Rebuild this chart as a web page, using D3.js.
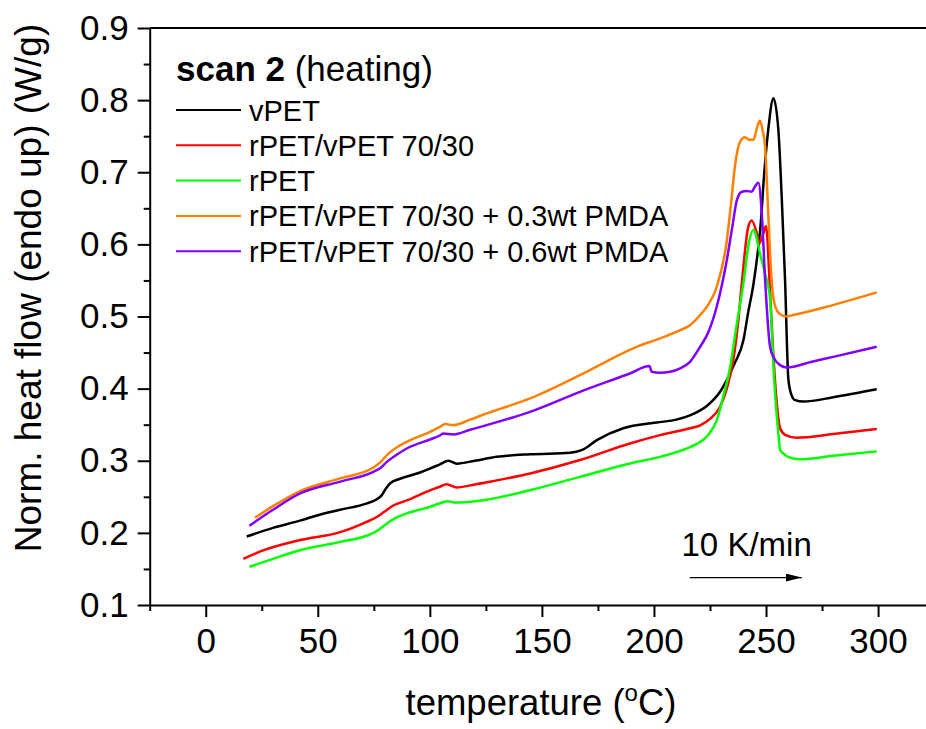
<!DOCTYPE html>
<html>
<head>
<meta charset="utf-8">
<script src="https://cdn.jsdelivr.net/npm/d3@7"></script>
<style>
  body { margin: 0; background: #fff; }
  svg text { font-family: "Liberation Sans", Arial, sans-serif; fill: #000; }
</style>
</head>
<body>
<div id="chart"></div>
<script>
const WIDTH = 926;
const HEIGHT = 729;

// --------------- data ---------------
const seriesNames = [
  "vPET",
  "rPET/vPET 70/30",
  "rPET",
  "rPET/vPET 70/30 + 0.3wt PMDA",
  "rPET/vPET 70/30 + 0.6wt PMDA"
];
const seriesColors = ["#000000", "#ff0000", "#00ff00", "#ff8000", "#8000ff"];

// [temperature (C), heat flow (W/g)]
const vPET = [
  [18.3,0.195],[30,0.207],[42,0.217],[50,0.2245],[60,0.232],[72,0.241],[76,0.246],
  [78.5,0.252],[80.5,0.262],[82.2,0.2685],[86.7,0.275],[95,0.283],[100,0.289],
  [104.5,0.295],[108.3,0.300],[112,0.296],[120,0.300],[129.8,0.3054],[144.7,0.309],
  [162.6,0.311],[168,0.315],[174.5,0.3286],[186.3,0.345],[201.2,0.353],[210,0.357],
  [217.6,0.365],[224,0.377],[229.5,0.3956],[232.5,0.412],[236,0.435],[239.9,0.467],
  [242,0.505],[244.4,0.545],[246.6,0.597],[247.8,0.635],[249,0.69],[251,0.759],
  [253.3,0.8025],[255.5,0.759],[257,0.666],[258.5,0.55],[260,0.412],[261.5,0.39],
  [263,0.384],[266.7,0.382],[280,0.388],[299.4,0.399]
];
const blend7030 = [
  [16.8,0.164],[25,0.175],[42.1,0.190],[60,0.201],[71.8,0.2153],[76.3,0.222],[80,0.23],
  [83.7,0.238],[89.7,0.245],[100.1,0.259],[104.5,0.264],[107.5,0.2675],[112,0.263],
  [120,0.267],[126.9,0.271],[144.7,0.2824],[167,0.301],[189.3,0.324],[202.7,0.3355],
  [216.1,0.345],[220.6,0.349],[225,0.358],[229.5,0.3748],[232.5,0.40],[235.4,0.4395],
  [237.5,0.49],[239.2,0.546],[242.1,0.6245],[243.6,0.633],[245.9,0.615],[247,0.6014],
  [248.5,0.612],[250,0.6254],[251.8,0.535],[253.3,0.445],[254.8,0.38],[256.3,0.345],
  [258.5,0.336],[263.7,0.332],[280,0.337],[299.4,0.344]
];
const rPET = [
  [19.5,0.153],[30,0.164],[42.1,0.176],[60,0.1875],[74.8,0.2],[77.5,0.205],[80.8,0.213],
  [85,0.221],[89.7,0.227],[100,0.236],[104.5,0.241],[108,0.244],[111,0.242],
  [125.4,0.246],[144.7,0.2592],[167,0.2777],[189.3,0.2962],[202.7,0.3054],[216.1,0.319],
  [220.6,0.326],[224,0.335],[228,0.356],[231,0.39],[234,0.430],[237,0.49],[239.9,0.546],
  [242.5,0.605],[244.4,0.620],[247.3,0.5875],[249.5,0.56],[251.8,0.525],[253.5,0.42],
  [255.5,0.338],[256.3,0.315],[257.8,0.310],[260,0.305],[265.2,0.302],[280,0.307],
  [299.4,0.313]
];
const pmda03 = [
  [22,0.221],[30,0.237],[42.1,0.258],[60,0.2755],[74.8,0.2907],[78,0.298],[80.8,0.3078],
  [85,0.318],[89.7,0.3262],[100.1,0.340],[104.5,0.347],[106.8,0.3508],[110.5,0.3494],
  [118,0.357],[125.4,0.3656],[144.7,0.3864],[167,0.4187],[192.3,0.458],[202.7,0.4696],
  [211.7,0.481],[216.1,0.488],[220.6,0.502],[224.5,0.518],[228,0.5412],[232.5,0.605],
  [234.5,0.66],[236.2,0.71],[238.4,0.742],[240.6,0.7484],[242.5,0.745],[244.4,0.745],
  [246,0.762],[247.3,0.7714],[248.5,0.758],[249.6,0.7354],[251,0.643],[252.5,0.5505],
  [254,0.515],[256.3,0.503],[259,0.500],[262.2,0.502],[277.1,0.5135],[299.4,0.5334]
];
const pmda06 = [
  [19.5,0.21],[30,0.232],[42.1,0.2546],[60,0.271],[74.8,0.2846],[78,0.29],[80.8,0.2985],
  [85,0.308],[89.7,0.317],[100.1,0.3295],[104.5,0.335],[106,0.3378],[110.5,0.3365],
  [118,0.343],[125.4,0.3494],[144.7,0.3678],[167,0.3956],[189.3,0.421],[198,0.4312],
  [199,0.4233],[202.7,0.422],[207.2,0.4233],[211.7,0.428],[216.1,0.4372],[220.6,0.458],
  [224.5,0.48],[228,0.5135],[232.5,0.578],[235,0.625],[237,0.6614],[239.2,0.673],
  [241.5,0.674],[243.6,0.673],[245,0.68],[246.6,0.6855],[248.1,0.643],[249.6,0.5505],
  [251.8,0.458],[253.3,0.444],[256.3,0.4326],[259.3,0.4294],[270,0.437],[280,0.444],
  [299.4,0.458]
];
const seriesData = [vPET, blend7030, rPET, pmda03, pmda06];

const xMajorTicks = [0, 50, 100, 150, 200, 250, 300];
const xMinorTicks = [-25, 25, 75, 125, 175, 225, 275, 325];
const yMajorTicks = [0.1, 0.2, 0.3, 0.4, 0.5, 0.6, 0.7, 0.8, 0.9];
const yMinorTicks = [0.15, 0.25, 0.35, 0.45, 0.55, 0.65, 0.75, 0.85];

// --------------- scales ---------------
const margin = { top: 28, left: 149.7 };
const x = d3.scaleLinear().domain([-25, 325]).range([margin.left, margin.left + 784.4]);
const y = d3.scaleLinear().domain([0.1, 0.9]).range([605, margin.top]);

const svg = d3.select("#chart").append("svg")
  .attr("width", WIDTH)
  .attr("height", HEIGHT);

// --------------- axes ---------------
const axisStyle = g => {
  g.selectAll("path, line").attr("stroke", "#000").attr("stroke-width", 2);
  g.selectAll("text").attr("font-size", 35).attr("fill", "#000")
    .attr("font-family", "'Liberation Sans', Arial, sans-serif");
};

svg.append("g")
  .attr("transform", `translate(0,${y(0.1)})`)
  .call(d3.axisBottom(x).tickValues(xMinorTicks).tickSize(6).tickFormat("").tickSizeOuter(0))
  .call(axisStyle);
svg.append("g")
  .attr("transform", `translate(0,${y(0.1)})`)
  .call(d3.axisBottom(x).tickValues(xMajorTicks).tickSize(12).tickPadding(11).tickSizeOuter(0))
  .call(axisStyle)
  .call(g => g.select(".domain").remove());

svg.append("g")
  .attr("transform", `translate(${x(-25)},0)`)
  .call(d3.axisLeft(y).tickValues(yMinorTicks).tickSize(6).tickFormat("").tickSizeOuter(0))
  .call(axisStyle);
svg.append("g")
  .attr("transform", `translate(${x(-25)},0)`)
  .call(d3.axisLeft(y).tickValues(yMajorTicks).tickSize(12).tickPadding(9)
    .tickFormat(d3.format(".1f")).tickSizeOuter(0))
  .call(axisStyle)
  .call(g => g.select(".domain").remove());

// top frame line
svg.append("line")
  .attr("x1", x(-25)).attr("x2", x(325))
  .attr("y1", y(0.9)).attr("y2", y(0.9))
  .attr("stroke", "#000").attr("stroke-width", 2);

// axis titles
const xTitle = svg.append("text")
  .attr("x", 541).attr("y", 715)
  .attr("text-anchor", "middle")
  .attr("font-size", 36.5);
xTitle.append("tspan").text("temperature (");
xTitle.append("tspan").attr("font-size", 24).attr("dy", -14).text("o");
xTitle.append("tspan").attr("dy", 14).text("C)");

svg.append("text")
  .attr("transform", "translate(41,288) rotate(-90)")
  .attr("text-anchor", "middle")
  .attr("font-size", 37)
  .text("Norm. heat flow (endo up) (W/g)");

// --------------- curves ---------------
const line = d3.line()
  .x(d => x(d[0]))
  .y(d => y(d[1]))
  .curve(d3.curveMonotoneX);

svg.append("g")
  .selectAll("path")
  .data(seriesData)
  .enter()
  .append("path")
  .attr("d", line)
  .attr("fill", "none")
  .attr("stroke", (d, i) => seriesColors[i])
  .attr("stroke-width", 2.5)
  .attr("stroke-linejoin", "round");

// --------------- legend ---------------
const legend = svg.append("g").attr("transform", "translate(176,0)");
const title = legend.append("text").attr("x", 0).attr("y", 81).attr("font-size", 35);
title.append("tspan").attr("font-weight", "bold").text("scan 2");
title.append("tspan").text(" (heating)");

const rows = legend.selectAll(".row")
  .data(seriesNames)
  .enter()
  .append("g")
  .attr("class", "row")
  .attr("transform", (d, i) => `translate(0,${110 + i * 35.3})`);
rows.append("line")
  .attr("x1", 0).attr("x2", 65)
  .attr("stroke", (d, i) => seriesColors[i])
  .attr("stroke-width", 2);
rows.append("text")
  .attr("x", 73).attr("y", 10.5)
  .attr("font-size", 29)
  .text(d => d);

// --------------- rate annotation ---------------
svg.append("defs").append("marker")
  .attr("id", "arrow")
  .attr("viewBox", "0 0 16 8")
  .attr("refX", 16).attr("refY", 4)
  .attr("markerWidth", 16).attr("markerHeight", 8)
  .attr("markerUnits", "userSpaceOnUse")
  .attr("orient", "auto")
  .append("path")
  .attr("d", "M0,0 L16,4 L0,8 Z")
  .attr("fill", "#000");

svg.append("line")
  .attr("x1", x(216)).attr("x2", x(266))
  .attr("y1", y(0.138)).attr("y2", y(0.138))
  .attr("stroke", "#000").attr("stroke-width", 1.3)
  .attr("marker-end", "url(#arrow)");
svg.append("text")
  .attr("x", x(212.3)).attr("y", y(0.168))
  .attr("font-size", 33)
  .text("10 K/min");
</script>
</body>
</html>
